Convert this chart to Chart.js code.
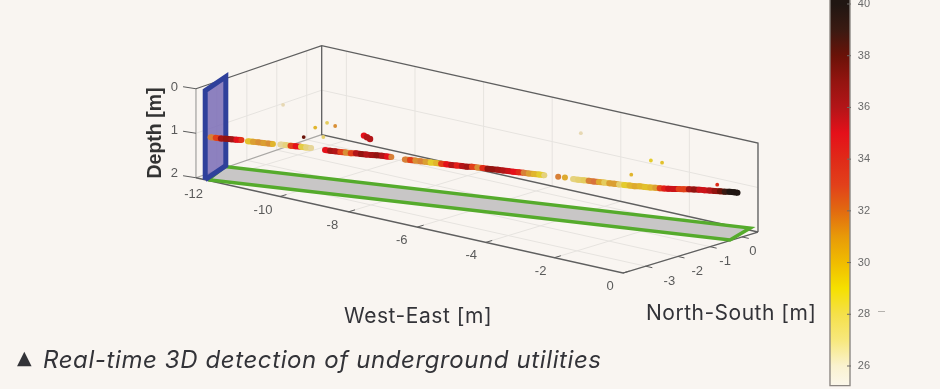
<!DOCTYPE html>
<html>
<head>
<meta charset="utf-8">
<style>
  html, body { margin: 0; padding: 0; background: #f9f5f1; overflow: hidden; }
  #wrap { position: relative; width: 940px; height: 389px; }
  canvas { filter: blur(0.4px); }
  .cap { position: absolute; white-space: nowrap; color: #333338; font-family: Inter, "Noto Sans", sans-serif; font-weight: 400; line-height: 1; }
</style>
<script src="https://cdn.jsdelivr.net/npm/chart.js@4"></script>
</head>
<body>
<div id="wrap">
  <canvas id="myChart" width="940" height="389"></canvas>
  <div class="cap" style="left:344px;top:305px;font-size:21px;letter-spacing:0.55px">West-East [m]</div>
  <div class="cap" style="left:646px;top:302px;font-size:21px;letter-spacing:0.5px">North-South [m]</div>
  <div class="cap" style="left:17px;top:348px;font-size:19px;font-family:'DejaVu Sans'">▲</div>
  <div class="cap" style="left:43px;top:348px;font-size:24px;font-style:italic;letter-spacing:0.6px">Real-time 3D detection of underground utilities</div>
</div>
<script>
const ctx = document.getElementById('myChart');

// axis ticks
const weTicks = [-12, -10, -8, -6, -4, -2, 0];
const nsTicks = [-3, -2, -1, 0];
const depthTicks = [0, 1, 2];
const tempTicks = [26, 28, 30, 32, 34, 36, 38, 40];

// box limits in metres
const weMin = -12.45;
const weMinBack = -12.72;
const nsMin = -3.7;
const nsMax = 0.5;

// colour bar
const tempStops = [25.2, 26, 27, 28, 29, 30, 31, 32, 33, 34, 35, 36, 37, 38, 39, 40];
const tempColors = ['#fbf7ec', '#faf2cf', '#f7e87c', '#f5e04a', '#f5e000', '#f0bc00', '#e89a08', '#e26a10', '#e2401a', '#e02a18', '#e5101a', '#b31518', '#941410', '#6a1208', '#3a1a12', '#201612'];

// the detected pipe
const pipeWE = [
  -12.5, -12.38, -12.26, -12.14, -12.02, -11.9, -11.78,
  -11.63, -11.51, -11.39, -11.27, -11.15, -11.05,
  -10.88, -10.76, -10.64, -10.52, -10.4, -10.28, -10.16,
  -9.84, -9.72, -9.6, -9.48, -9.36, -9.24, -9.12, -9, -8.88, -8.76, -8.64, -8.52, -8.4, -8.3,
  -7.98, -7.86, -7.74, -7.62, -7.5, -7.38, -7.26, -7.14, -7.02, -6.9, -6.78, -6.66, -6.54,
  -6.42, -6.3, -6.18, -6.06, -5.94, -5.82, -5.7, -5.58, -5.46, -5.34, -5.22, -5.1, -4.98, -4.86, -4.74,
  -4.42, -4.26,
  -4.07, -3.95, -3.83, -3.71, -3.59, -3.47, -3.35, -3.23, -3.11,
  -3, -2.88, -2.76, -2.64, -2.52, -2.4, -2.28, -2.16, -2.06, -1.96,
  -1.86, -1.74, -1.62, -1.5, -1.38, -1.26, -1.14, -1.02, -0.9, -0.78,
  -0.66, -0.55, -0.44, -0.33, -0.25
];
const pipeNS = [
  -3.19, -3.16, -3.13, -3.1, -3.06, -3.03, -3,
  -2.96, -2.93, -2.89, -2.86, -2.83, -2.8,
  -2.75, -2.72, -2.69, -2.66, -2.62, -2.59, -2.56,
  -2.47, -2.44, -2.41, -2.38, -2.34, -2.31, -2.28, -2.25, -2.21, -2.18, -2.15, -2.11, -2.08, -2.05,
  -1.97, -1.94, -1.9, -1.87, -1.84, -1.81, -1.77, -1.74, -1.71, -1.68, -1.64, -1.61, -1.58,
  -1.55, -1.51, -1.48, -1.45, -1.42, -1.38, -1.35, -1.32, -1.29, -1.25, -1.22, -1.19, -1.16, -1.12, -1.09,
  -1, -0.96,
  -0.91, -0.88, -0.84, -0.81, -0.78, -0.75, -0.71, -0.68, -0.65,
  -0.62, -0.59, -0.55, -0.52, -0.49, -0.46, -0.42, -0.39, -0.36, -0.33,
  -0.31, -0.28, -0.24, -0.21, -0.18, -0.15, -0.11, -0.08, -0.05, -0.02,
  0.02, 0.05, 0.08, 0.11, 0.13
];
const pipeDepth = [
  1.21, 1.21, 1.21, 1.2, 1.2, 1.2, 1.19,
  1.2, 1.2, 1.2, 1.2, 1.2, 1.2,
  1.19, 1.19, 1.19, 1.19, 1.19, 1.19, 1.19,
  1.2, 1.2, 1.2, 1.2, 1.2, 1.2, 1.19, 1.19, 1.19, 1.19, 1.18, 1.18, 1.18, 1.18,
  1.2, 1.2, 1.2, 1.2, 1.2, 1.2, 1.2, 1.2, 1.2, 1.2, 1.2, 1.2, 1.2,
  1.19, 1.19, 1.19, 1.19, 1.19, 1.19, 1.19, 1.19, 1.19, 1.19, 1.19, 1.19, 1.19, 1.19, 1.19,
  1.19, 1.19,
  1.2, 1.2, 1.2, 1.2, 1.2, 1.2, 1.2, 1.2, 1.2,
  1.2, 1.2, 1.2, 1.2, 1.19, 1.19, 1.19, 1.18, 1.18, 1.18,
  1.17, 1.16, 1.15, 1.14, 1.13, 1.12, 1.11, 1.11, 1.1, 1.1,
  1.09, 1.09, 1.08, 1.08, 1.08
];
const pipeTemp = [
  32, 33, 36.5, 37, 36.5, 35, 33.5,
  29.5, 31, 31.5, 31, 31.5, 30,
  26.5, 27, 33, 35, 28.5, 27, 26.5,
  35, 36.5, 36, 33, 31.5, 33, 36, 37, 36, 36.5, 37, 36, 35, 32,
  32, 33, 31.5, 32, 31, 29, 30, 33, 35, 36, 34.5, 36, 36.5,
  33, 31.5, 34, 37, 37, 36.5, 36, 35.5, 35, 34, 32, 31, 30, 29, 27,
  32, 30.5,
  27, 27.5, 28, 32, 32.5, 30.5, 28, 31, 31,
  27.5, 29, 30, 30.5, 30, 29.5, 30, 31, 33, 34.5,
  35.5, 35.5, 33, 33, 36.5, 37, 35.5, 35.5, 36, 37,
  38, 39, 40, 40, 40
];

// small isolated detections
const spotWE = [-10.07, -9.79, -9.6, -9.88, -10.33, -10.81, -3.89, -2.26, -2, -2.72, -0.72];
const spotNS = [-2.53, -2.46, -2.41, -2.48, -2.61, -2.74, -0.86, -0.42, -0.35, -0.54, 0];
const spotDepth = [0.72, 0.58, 0.63, 0.91, 0.96, 0.29, 0.15, 0.58, 0.6, 0.95, 0.95];
const spotTemp = [30, 28, 31.5, 27.5, 38, 26, 26, 29, 29.5, 30, 34];

const blobWE = [-8.93, -8.86, -8.79];
const blobNS = [-2.23, -2.21, -2.19];
const blobDepth = [0.77, 0.8, 0.83];
const blobTemp = [35, 36, 36];

// green corridor on the ground and the blue cross section
const corridorWE = [-12.14, -12.58, -0.35, -0.03, -12.14];
const corridorNS = [-3.65, -2.66, 0.63, -0.34, -3.65];
const panelWE = [-12.19, -12.62, -12.62, -12.19, -12.19];
const panelNS = [-3.69, -2.59, -2.59, -3.69, -3.69];
const panelDepth = [2, 2, 0, 0, 2];

// oblique view of the box, pixels per metre
function project(we, ns, depth) {
  return {
    x: 623 + 34.3 * we + 32.14 * (ns - nsMin),
    y: 273 + 7.65 * we - 9.76 * (ns - nsMin) + 44.5 * (depth - 2),
  };
}

function hexToRgb(hex) {
  return [1, 3, 5].map(i => parseInt(hex.slice(i, i + 2), 16));
}

function tempRgb(t) {
  let i = 0;
  while (i < tempStops.length - 2 && t > tempStops[i + 1]) i++;
  const k = Math.min(1, Math.max(0, (t - tempStops[i]) / (tempStops[i + 1] - tempStops[i])));
  const a = hexToRgb(tempColors[i]);
  const b = hexToRgb(tempColors[i + 1]);
  return a.map((v, n) => v + (b[n] - v) * k);
}

// the marks look duller than the bar below 33, mixed a bit towards tan
function tempColor(t) {
  const tan = [196, 168, 128];
  const mix = t < 33 ? 0.35 : 0;
  const rgb = tempRgb(t).map((v, n) => Math.round(v + (tan[n] - v) * mix));
  return `rgb(${rgb.join(',')})`;
}

// list of [we, ns, depth] runs -> line data with a break between runs
function runsToLine(runs) {
  const out = [];
  runs.forEach(run => {
    run.forEach(p => out.push(project(p[0], p[1], p[2])));
    out.push({ x: NaN, y: NaN });
  });
  return out;
}

function lineSet(data, color, width) {
  return { type: 'scatter', data, showLine: true, borderColor: color, borderWidth: width, pointRadius: 0, tension: 0 };
}

function pointSet(we, ns, depth, temp, radius) {
  return {
    type: 'scatter',
    data: we.map((v, i) => project(v, ns[i], depth[i])),
    pointRadius: radius,
    pointBorderWidth: 0,
    pointBackgroundColor: temp.map(tempColor),
  };
}

const gridRuns = [];
weTicks.forEach(we => {
  gridRuns.push([[we, nsMin, 2], [we, nsMax, 2], [we, nsMax, 0]]);
});
nsTicks.forEach(ns => {
  const k = (ns - nsMin) / (nsMax - nsMin);
  const leftWE = weMin + (weMinBack - weMin) * k;
  gridRuns.push([[0, ns, 2], [leftWE, ns, 2], [leftWE, ns, 0]]);
});
gridRuns.push([[weMin, nsMin, 1], [weMinBack, nsMax, 1], [0, nsMax, 1]]);

const lightBox = [
  [[weMin, nsMin, 2], [weMin, nsMin, 0]],
  [[weMin, nsMin, 2], [weMinBack, nsMax, 2]],
];
const darkBox = [
  [[weMin, nsMin, 0], [weMinBack, nsMax, 0], [0, nsMax, 0], [0, nsMax, 2]],
  [[weMinBack, nsMax, 0], [weMinBack, nsMax, 2], [0, nsMax, 2]],
  [[weMin, nsMin, 2], [0, nsMin, 2], [0, nsMax, 2]],
];

const tickRuns = [];
weTicks.forEach(we => tickRuns.push([[we, nsMin, 2], [we, nsMin + 0.2, 2]]));
nsTicks.forEach(ns => tickRuns.push([[0, ns, 2], [0.2, ns, 2]]));
depthTicks.forEach(d => tickRuns.push([[weMin, nsMin, d], [weMin - 0.33, nsMin - 0.05, d]]));

const barTicks = [];
tempTicks.forEach(t => {
  barTicks.push({ x: 847, y: t }, { x: 851, y: t }, { x: NaN, y: NaN });
});

// tick labels of the two oblique axes and the depth title
const boxText = {
  id: 'boxText',
  afterDatasetsDraw(chart) {
    const c = chart.ctx;
    const sx = chart.scales.x;
    const sy = chart.scales.y;
    c.save();
    c.fillStyle = '#5a5a5a';
    c.font = '13px "Liberation Sans"';
    c.textAlign = 'center';
    c.textBaseline = 'middle';
    weTicks.forEach(we => {
      const p = project(we, nsMin, 2);
      c.fillText(String(we), sx.getPixelForValue(p.x - 13 + we * 0.4), sy.getPixelForValue(p.y + 13.5));
    });
    nsTicks.forEach(ns => {
      const p = project(0, ns, 2);
      c.fillText(String(ns), sx.getPixelForValue(p.x + 11 - ns * 4.3), sy.getPixelForValue(p.y + 15));
    });
    c.translate(sx.getPixelForValue(156), sy.getPixelForValue(133));
    c.rotate(-Math.PI / 2);
    c.fillStyle = '#333';
    c.font = 'bold 19.5px "Liberation Sans"';
    c.fillText('Depth [m]', 0, 0);
    c.restore();
  },
};

// these two axes sit on top of the picture, they must not take room from it
function noRoom(scale) {
  scale.width = 0;
  scale.paddingTop = 0;
  scale.paddingBottom = 0;
}

// the ribbon breaks where the pipe was not detected
function pipeSegment(c) {
  const i = c.p0DataIndex;
  if (pipeWE[i + 1] - pipeWE[i] > 0.13) return 'rgba(0,0,0,0)';
  return tempColor(pipeTemp[i]);
}

// first dataset ends up on top
new Chart(ctx, {
  type: 'scatter',
  plugins: [boxText],
  data: {
    datasets: [
      {
        ...pointSet(pipeWE, pipeNS, pipeDepth, pipeTemp, 3),
        showLine: true,
        borderWidth: 6,
        tension: 0,
        segment: { borderColor: pipeSegment },
      },
      pointSet(blobWE, blobNS, blobDepth, blobTemp, 3.2),
      pointSet(spotWE, spotNS, spotDepth, spotTemp, 1.9),
      {
        ...lineSet(panelWE.map((we, i) => project(we, panelNS[i], panelDepth[i])), '#2f409b', 5),
        backgroundColor: 'rgba(122, 108, 182, 0.85)',
        fill: 'shape',
      },
      {
        ...lineSet(corridorWE.map((we, i) => project(we, corridorNS[i], 2)), '#55ab2c', 3.5),
        backgroundColor: '#c8c6c6',
        fill: 'shape',
      },
      lineSet(runsToLine(tickRuns), '#5c5c5c', 1),
      lineSet(runsToLine(darkBox), '#5f5f5f', 1.3),
      lineSet(runsToLine(lightBox), '#a9a7a4', 1.3),
      lineSet(runsToLine(gridRuns), '#e6e3df', 1),
      { ...lineSet(barTicks, '#6e6a66', 1), yAxisID: 'yTemp' },
      lineSet([{ x: 878, y: 311.5 }, { x: 885, y: 311.5 }], '#b5b2ae', 1),
      {
        type: 'bar',
        xAxisID: 'x',
        yAxisID: 'yTemp',
        data: [{ x: 840, y: [25.22, 40.2] }],
        barThickness: 21,
        borderColor: '#8a8580',
        borderWidth: 1.5,
        borderSkipped: false,
        backgroundColor(context) {
          const s = context.chart.scales.yTemp;
          if (!s || !Number.isFinite(s.getPixelForValue(26))) return '#888';
          const top = s.getPixelForValue(40);
          const bottom = s.getPixelForValue(25.2);
          const g = context.chart.ctx.createLinearGradient(0, bottom, 0, top);
          tempStops.forEach((t, i) => {
            g.addColorStop((t - 25.2) / 14.8, tempColors[i]);
          });
          return g;
        },
      },
    ],
  },
  options: {
    responsive: false,
    animation: false,
    layout: { padding: 0, autoPadding: false },
    plugins: { legend: { display: false }, tooltip: { enabled: false } },
    scales: {
      x: { type: 'linear', display: false, min: 0, max: 940, offset: false },
      y: { type: 'linear', display: false, min: 0, max: 389, reverse: true },
      yDepth: {
        axis: 'y',
        type: 'linear',
        position: { x: 178 },
        reverse: true,
        min: -87 / 43,
        max: 302 / 43,
        grid: { display: false },
        border: { display: false },
        ticks: { color: '#5a5a5a', font: { family: 'Liberation Sans', size: 13 }, padding: 0, callback: v => v },
        afterBuildTicks(scale) { scale.ticks = depthTicks.map(value => ({ value })); },
        afterFit: noRoom,
      },
      yTemp: {
        axis: 'y',
        type: 'linear',
        position: { x: 870 },
        min: 26 - 23 / 25.85,
        max: 40 + 4 / 25.85,
        grid: { display: false },
        border: { display: false },
        ticks: { color: '#6a6a6a', font: { family: 'Liberation Sans', size: 11 }, padding: 0, callback: v => v },
        afterBuildTicks(scale) { scale.ticks = tempTicks.map(value => ({ value })); },
        afterFit: noRoom,
      },
    },
  },
});
</script>
</body>
</html>
